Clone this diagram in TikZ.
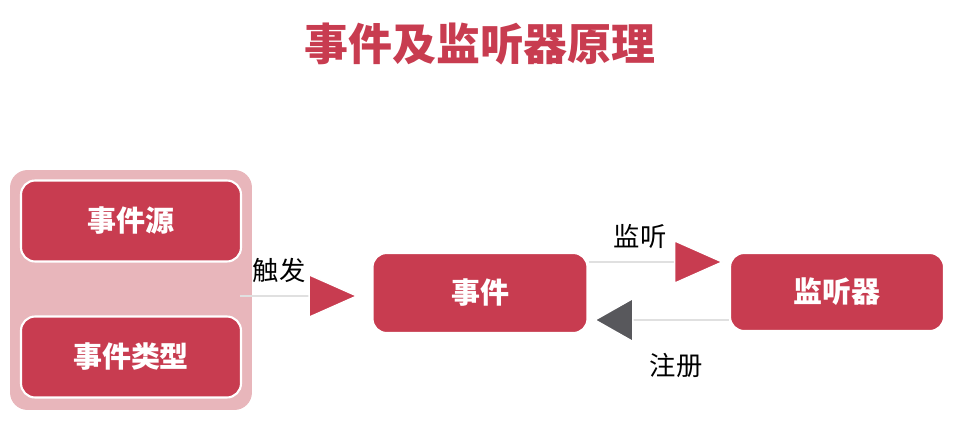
\documentclass[tikz,border=0pt]{standalone}
\usepackage{fontspec}
\setmainfont{Noto Sans CJK SC}
\usetikzlibrary{arrows.meta,positioning}
\definecolor{boxred}{HTML}{C83C50}
\definecolor{grppink}{HTML}{E8B6BB}
\definecolor{tipgrey}{HTML}{58585C}
\tikzset{
  box/.style={draw=white,line width=1.2pt,fill=boxred,rounded corners=8pt,
    text=white,font=\bfseries\fontsize{16.5}{19}\selectfont,
    minimum width=4.4cm,minimum height=1.62cm},
  lbl/.style={font=\fontsize{15}{17}\selectfont},
  conn/.style={draw=black!12,line width=1.5pt},
  redtip/.style={-{Triangle[length=1.0cm,width=0.88cm,fill=boxred,color=white,line width=0.8pt]}},
  greytip/.style={-{Triangle[length=0.8cm,width=0.9cm,fill=tipgrey,color=white,line width=0.8pt]}}
}
\begin{document}
\begin{tikzpicture}[x=0.02cm,y=-0.02cm]
  \useasboundingbox (0,0) rectangle (956,426);
  \node[font=\bfseries\fontsize{25}{30}\selectfont,text=boxred] (title) at (480,44) {事件及监听器原理};
  \node[fill=grppink,rounded corners=10pt,minimum width=4.84cm,minimum height=4.8cm] (grp) at (131,290) {};
  \node[box] (src) at (131,221) {事件源};
  \node[box] (typ) at (131,357) {事件类型};
  \node[box,minimum width=4.3cm,minimum height=1.6cm] (evt) at (480,293) {事件};
  \node[box,minimum width=4.28cm,minimum height=1.56cm] (lsn) at (837,292) {监听器};
  % connectors
  \coordinate (trg) at (240,296);
  \draw[conn,redtip,shorten >=0.26cm] (trg) -- (evt.west|-trg);
  \draw[conn,redtip,shorten >=0.1cm] (evt.east|-0,262) -- (lsn.west|-0,262);
  \draw[conn,greytip,shorten >=0.1cm] (lsn.west|-0,320) -- (evt.east|-0,320);
  \node[lbl] (ltrg) at (279,270) {触发};
  \node[lbl] (llsn) at (640,236) {监听};
  \node[lbl] (lreg) at (676,366) {注册};
\end{tikzpicture}
\end{document}
